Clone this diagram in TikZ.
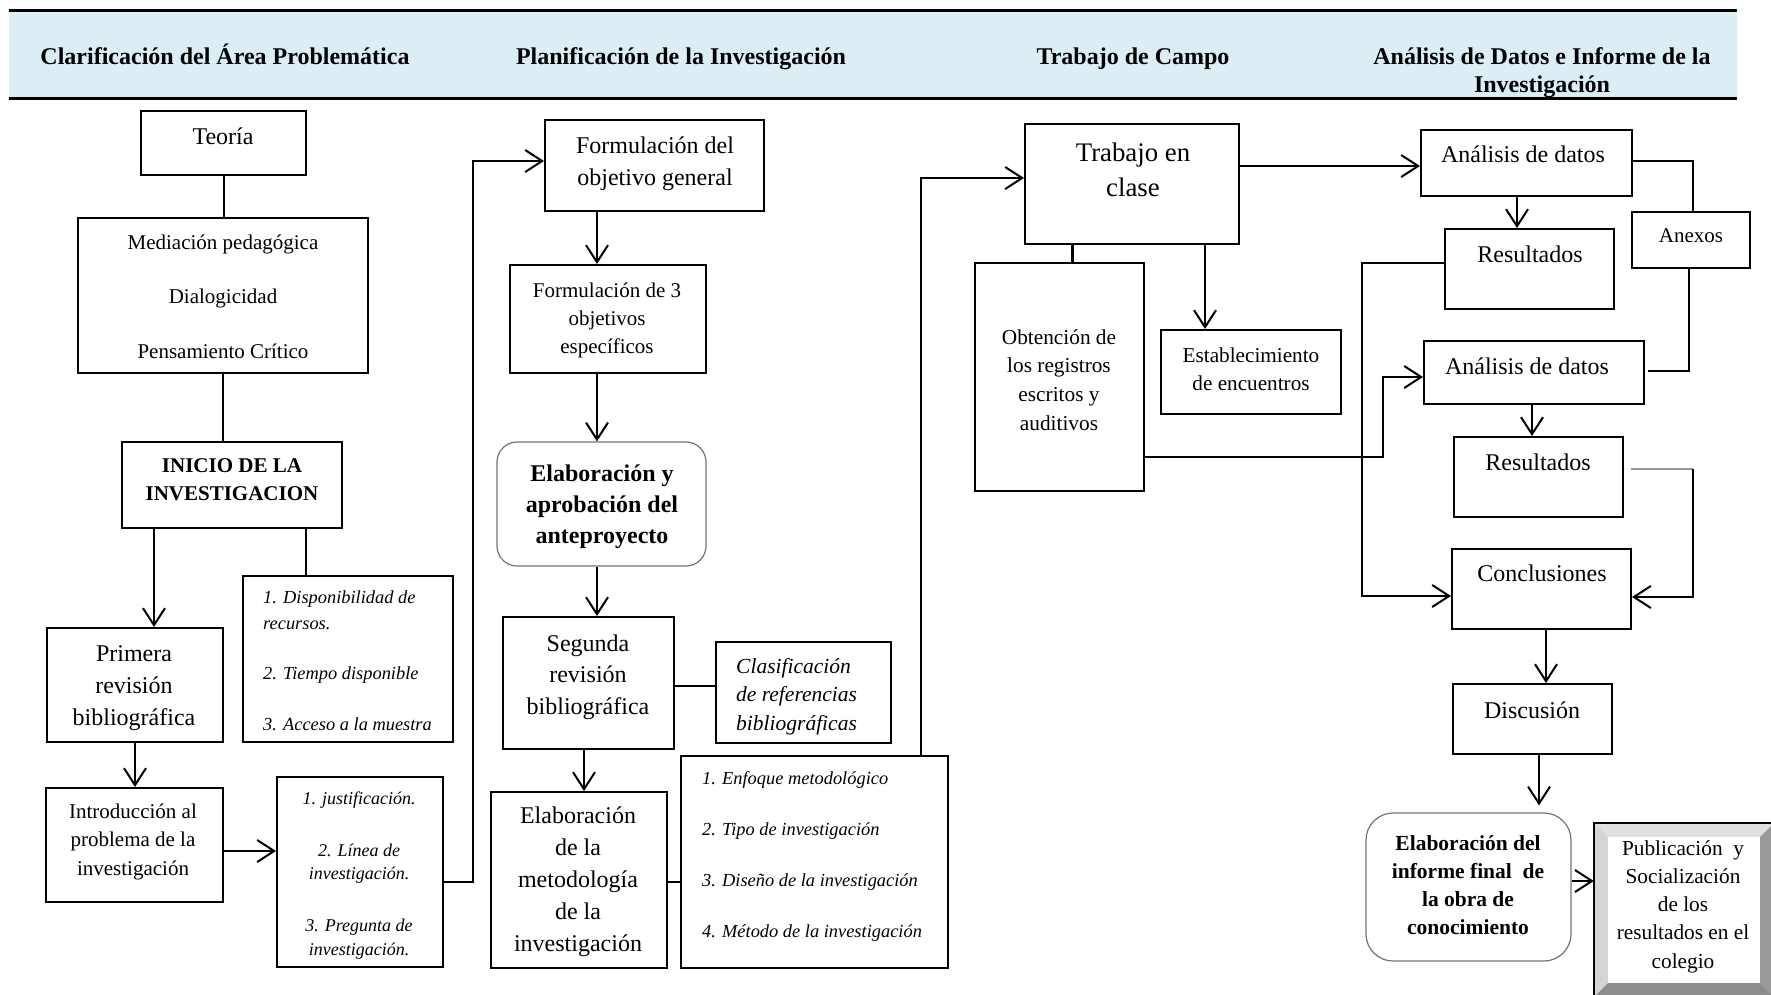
\documentclass[tikz,border=0pt]{standalone}
\usepackage{fontspec}
\setmainfont{Liberation Serif}
\usetikzlibrary{arrows.meta,calc}
\definecolor{hdr}{HTML}{DAEEF3}
\newcommand\fs[2]{\fontsize{#1}{#2}\selectfont}
\newcommand\ct[1]{\parbox[t]{400pt}{\centering #1}}
\newcommand\lt[1]{\parbox[t]{400pt}{\raggedright #1}}
\begin{document}
\begin{tikzpicture}[x=1pt,y=-1pt,
  box/.style={draw, line width=2pt, inner sep=0pt},
  rbox/.style={draw=black!55, line width=1.2pt, inner sep=0pt, rounded corners=#1},
  tx/.style={inner sep=0pt, anchor=base},
  tl/.style={inner sep=0pt, anchor=base west},
  ln/.style={line width=2pt},
  thinln/.style={line width=1.5pt},
  arr/.style={line width=2pt, -{Straight Barb[length=17pt,width=22pt]}},
  thinarr/.style={line width=1.5pt, -{Straight Barb[length=17pt,width=22pt,line width=2pt]}},
]
\useasboundingbox (0,0) rectangle (1771,994);
\clip (0,0) rectangle (1771,994);

% header band
\fill[hdr] (9,10) rectangle (1737,98);
\draw[line width=3pt] (9,10) -- (1737,10);
\draw[line width=3pt] (9,98) -- (1737,98);
\node[tx] (h1) at (225,64) {\ct{\fs{24}{28}\bfseries Clarificación del Área Problemática}};
\node[tx] (h2) at (681,64) {\ct{\fs{24}{28}\bfseries Planificación de la Investigación}};
\node[tx] (h3) at (1133,64) {\ct{\fs{24}{28}\bfseries Trabajo de Campo}};
\node[tx] (h4) at (1542,64) {\ct{\fs{24}{28}\bfseries Análisis de Datos e Informe de la\\Investigación}};

% boxes
\node[box, minimum width=165pt, minimum height=64pt] (teoria) at (223.5,143) {};
\node[box, minimum width=290pt, minimum height=155pt] (medi) at (223,295.5) {};
\node[box, minimum width=220pt, minimum height=86pt] (inicio) at (232,485) {};
\node[box, minimum width=176pt, minimum height=114pt] (primera) at (135,685) {};
\node[box, minimum width=210pt, minimum height=166pt] (list1) at (348,659) {};
\node[box, minimum width=177pt, minimum height=114pt] (intro) at (134.5,845) {};
\node[box, minimum width=166pt, minimum height=190pt] (list2) at (360,872) {};
\node[box, minimum width=219pt, minimum height=91pt] (formul) at (654.5,165.5) {};
\node[box, minimum width=196pt, minimum height=108pt] (obj3) at (608,319) {};
\node[rbox=20pt, minimum width=209pt, minimum height=124pt] (antep) at (601.5,504) {};
\node[box, minimum width=171pt, minimum height=132pt] (segunda) at (588.5,683) {};
\node[box, minimum width=175pt, minimum height=101pt] (clasif) at (803.5,692.5) {};
\node[box, minimum width=176pt, minimum height=176pt] (elabmet) at (579,880) {};
\node[box, minimum width=267pt, minimum height=212pt] (list3) at (814.5,862) {};
\node[box, minimum width=214pt, minimum height=120pt] (trabajo) at (1132,184) {};
\node[box, minimum width=169pt, minimum height=228pt] (obten) at (1059.5,377) {};
\node[box, minimum width=180pt, minimum height=84pt] (estab) at (1251,372) {};
\node[box, minimum width=211pt, minimum height=66pt] (anal1) at (1526.5,163) {};
\node[box, minimum width=169pt, minimum height=80pt] (res1) at (1529.5,269) {};
\node[box, minimum width=118pt, minimum height=56pt] (anexos) at (1691,240) {};
\node[box, minimum width=220pt, minimum height=63pt] (anal2) at (1534,372.5) {};
\node[box, minimum width=169pt, minimum height=80pt] (res2) at (1538.5,477) {};
\node[box, minimum width=179pt, minimum height=80pt] (concl) at (1541.5,589) {};
\node[box, minimum width=159pt, minimum height=70pt] (discu) at (1532.5,719) {};
\node[rbox=27pt, minimum width=205pt, minimum height=148pt] (informe) at (1468.5,887) {};
\node[inner sep=0pt, minimum width=180pt, minimum height=174pt] (publi) at (1684,910) {};
% bevel of the last box
\fill[black!12] (publi.north west) -- (publi.north east) -- ($(publi.north east)+(-14,14)$) -- ($(publi.north west)+(14,14)$) -- cycle;
\fill[black!17] (publi.north west) -- ($(publi.north west)+(14,14)$) -- ($(publi.south west)+(14,-14)$) -- (publi.south west) -- cycle;
\fill[black!40] (publi.north east) -- ($(publi.north east)+(-14,14)$) -- ($(publi.south east)+(-14,-14)$) -- (publi.south east) -- cycle;
\fill[black!45] (publi.south west) -- ($(publi.south west)+(14,-14)$) -- ($(publi.south east)+(-14,-14)$) -- (publi.south east) -- cycle;
\draw[line width=2pt] (publi.north west) rectangle (publi.south east);

% texts
\node[tx] (teoria-t) at (223,144) {\ct{\fs{24}{28}Teoría}};
\node[tx] (medi-t) at (223,249) {\ct{\fs{21}{54.5}Mediación pedagógica\\Dialogicidad\\Pensamiento Crítico}};
\node[tx] (inicio-t) at (232,472) {\ct{\fs{21}{28}\bfseries INICIO DE LA\\INVESTIGACION}};
\node[tx] (primera-t) at (134,661) {\ct{\fs{24}{32}Primera\\revisión\\bibliográfica}};
\node[tl] (list1-t) at (263,603) {\lt{\fs{18.4}{26}\itshape 1. Disponibilidad de\\recursos.\\[24pt]2. Tiempo disponible\\[25pt]3. Acceso a la muestra}};
\node[tx] (intro-t) at (133,818) {\ct{\fs{21}{28.5}Introducción al\\problema de la\\investigación}};
\node[tx] (list2-t) at (359,804) {\ct{\fs{18}{23.5}\itshape 1. justificación.\\[28.5pt]2. Línea de\\investigación.\\[28.5pt]3. Pregunta de\\investigación.}};
\node[tx] (formul-t) at (655,153) {\ct{\fs{24}{32}Formulación del\\objetivo general}};
\node[tx] (obj3-t) at (607,297) {\ct{\fs{21}{28}Formulación de 3\\objetivos\\específicos}};
\node[tx] (antep-t) at (602,481) {\ct{\fs{24}{31}\bfseries Elaboración y\\aprobación del\\anteproyecto}};
\node[tx] (segunda-t) at (588,651) {\ct{\fs{24}{31.5}Segunda\\revisión\\bibliográfica}};
\node[tl] (clasif-t) at (736,673) {\lt{\fs{21.5}{28.5}\itshape Clasificación\\de referencias\\bibliográficas}};
\node[tx] (elabmet-t) at (578,823) {\ct{\fs{24}{32}Elaboración\\de la\\metodología\\de la\\investigación}};
\node[tl] (list3-t) at (702,784) {\lt{\fs{18.4}{51.3}\itshape 1. Enfoque metodológico\\2. Tipo de investigación\\3. Diseño de la investigación\\4. Método de la investigación}};
\node[tx] (trabajo-t) at (1133,161) {\ct{\fs{26.8}{35}Trabajo en\\clase}};
\node[tx] (obten-t) at (1059,344) {\ct{\fs{21.3}{28.7}Obtención de\\los registros\\escritos y\\auditivos}};
\node[tx] (estab-t) at (1251,362) {\ct{\fs{21.2}{28}Establecimiento\\de encuentros}};
\node[tx] (anal1-t) at (1523,162) {\ct{\fs{24}{28}Análisis de datos}};
\node[tx] (res1-t) at (1530,262) {\ct{\fs{24}{28}Resultados}};
\node[tx] (anexos-t) at (1691,242) {\ct{\fs{21}{28}Anexos}};
\node[tx] (anal2-t) at (1527,374) {\ct{\fs{24}{28}Análisis de datos}};
\node[tx] (res2-t) at (1538,470) {\ct{\fs{24}{28}Resultados}};
\node[tx] (concl-t) at (1542,581) {\ct{\fs{24}{28}Conclusiones}};
\node[tx] (discu-t) at (1532,718) {\ct{\fs{24}{28}Discusión}};
\node[tx] (informe-t) at (1468,850) {\ct{\fs{21.5}{28}\bfseries Elaboración del\\informe final\enspace de\\la obra de\\conocimiento}};
\node[tx] (publi-t) at (1683,855) {\ct{\fs{21.3}{28.3}Publicación\enspace y\\Socialización\\de los\\resultados en el\\colegio}};

% connectors
\draw[ln] (teoria.south) -- (teoria.south |- medi.north);
\draw[ln] (medi.south) -- (medi.south |- inicio.north);
\path (inicio.south) ++(-78,0) coordinate (p1);
\draw[arr] (p1) -- (p1 |- primera.north);
\path (inicio.south) ++(74,0) coordinate (p2);
\draw[ln] (p2) -- (p2 |- list1.north);
\draw[arr] (primera.south) -- (primera.south |- intro.north);
\path (intro.east) ++(0,6) coordinate (p3);
\draw[arr] (p3) -- (p3 -| list2.west);
\path (list2.east) ++(0,10) coordinate (p4);
\coordinate (c1) at (473,161);
\draw[arr] (p4) -| (c1) -- (c1 -| formul.west);
\path (obj3.north) ++(-11,0) coordinate (p5);
\draw[arr] (p5 |- formul.south) -- (p5);
\path (antep.north) ++(-4.5,0) coordinate (p6);
\draw[arr] (p6 |- obj3.south) -- (p6);
\path (segunda.north) ++(8.5,0) coordinate (p7);
\draw[arr] (p7 |- antep.south) -- (p7);
\path (segunda.east) ++(0,3) coordinate (p8);
\draw[ln] (p8) -- (p8 -| clasif.west);
\path (elabmet.north) ++(5,0) coordinate (p9);
\draw[arr] (p9 |- segunda.south) -- (p9);
\path (elabmet.east) ++(0,2) coordinate (p10);
\draw[ln] (p10) -- (p10 -| list3.west);
\path (list3.north) ++(106.5,0) coordinate (p11);
\coordinate (c2) at (921,178);
\draw[arr] (p11) -- (c2) -- (c2 -| trabajo.west);
\path (trabajo.east) ++(0,-18) coordinate (p12);
\draw[arr] (p12) -- (p12 -| anal1.west);
\path (trabajo.south) ++(-60,0) coordinate (p13);
\draw[line width=3pt] (p13) -- (p13 |- obten.north);
\path (trabajo.south) ++(73,0) coordinate (p14);
\draw[arr] (p14) -- (p14 |- estab.north);
\path (obten.east) ++(0,80) coordinate (p15);
\coordinate (c3) at (1383,377);
\draw[arr] (p15) -| (c3) -- (c3 -| anal2.west);
\path (res1.north) ++(-12.5,0) coordinate (p16);
\draw[arr] (p16 |- anal1.south) -- (p16);
\path (anal1.east) ++(0,-2) coordinate (p17);
\coordinate (c4) at (1693,161);
\draw[thinln] (p17) -- (c4) -- (c4 |- anexos.north);
\path (anexos.south) ++(-2,0) coordinate (p18);
\path (anal2.east) ++(3,-1.5) coordinate (p19);
\draw[ln] (p18) -- (p18 |- p19) -- (p19);
\path (res1.west) ++(0,-6) coordinate (p20);
\coordinate (c6) at (1362,596);
\draw[thinarr] (p20) -| (c6) -- (c6 -| concl.west);
\path (anal2.south) ++(-2,0) coordinate (p21);
\draw[arr] (p21) -- (p21 |- res2.north);
\path (res2.east) ++(7,-8) coordinate (p22);
\coordinate (c7) at (1693,469);
\coordinate (c8) at (1693,597);
\draw[line width=1.5pt, black!40] (p22) -- (c7);
\draw[arr] (c7) -- (c8) -- (c8 -| concl.east);
\path (concl.south) ++(4.5,0) coordinate (p23);
\draw[arr] (p23) -- (p23 |- discu.north);
\path (discu.south) ++(6.5,0) coordinate (p24);
\draw[arr, shorten >=7pt] (p24) -- (p24 |- informe.north);
\path (informe.east) ++(0,-6) coordinate (p25);
\draw[arr] (p25) -- (p25 -| publi.west);
\end{tikzpicture}
\end{document}
